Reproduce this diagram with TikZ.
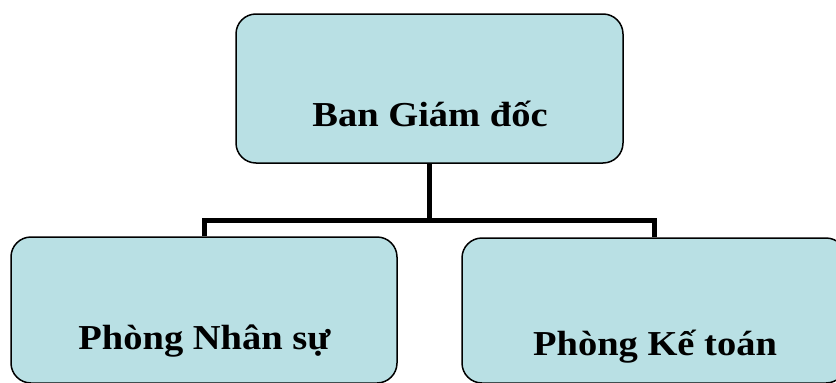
\documentclass[tikz,border=0pt]{standalone}
\usepackage{fontspec}
\setmainfont{Liberation Serif}
\definecolor{boxfill}{RGB}{185,224,228}
\newcommand{\wide}[1]{\scalebox{1.1}[1]{#1}}
\begin{document}
\begin{tikzpicture}[x=1pt,y=-1pt,
  box/.style={draw=black,line width=1.5pt,fill=boxfill,rounded corners=20pt,inner sep=0pt},
  lbl/.style={anchor=base,font=\fontsize{35}{40}\selectfont\bfseries,inner sep=0pt},
  conn/.style={line width=5pt,line join=miter,line cap=butt}]
\useasboundingbox (0,0) rectangle (836,383);
\clip (0,0) rectangle (836,383);
\node[box,minimum width=387pt,minimum height=149pt] (top) at (429.5,88.5) {};
\node[box,minimum width=386pt,minimum height=146pt] (left) at (204,310) {};
\node[box,minimum width=384pt,minimum height=145pt] (right) at (654,310.5) {};
\node[lbl] (ttop) at (430,126) {\wide{Ban Giám đốc}};
\node[lbl] (tleft) at (204.5,349) {\wide{Phòng Nhân sự}};
\node[lbl] (tright) at (655,355) {\wide{Phòng Kế toán}};
\coordinate (j) at (429.5,220);
\draw[conn] (top.south) -- (j);
\draw[conn] (left.north) |- (j) -| (right.north);
\end{tikzpicture}
\end{document}
